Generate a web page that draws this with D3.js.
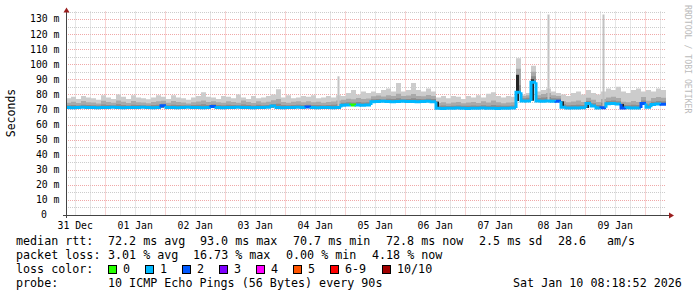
<!DOCTYPE html>
<html>
<head>
<meta charset="utf-8">
<script src="https://cdn.jsdelivr.net/npm/d3@7"></script>
<style>
body { margin: 0; background: #fff; }
text { font-family: "DejaVu Sans Mono", monospace; fill: #000; }
</style>
</head>
<body>
<svg width="697" height="297"></svg>
<script>
// 10 days of smokeping data, one value every 2 hours
var startTime = new Date(2025, 11, 31, 8, 18, 52);
var endTime = new Date(2026, 0, 10, 8, 18, 52);
var stepHours = 2;

// median rtt (ms)
var median = [
  71.3,71.2,71.3,71.4,71.3,71.3,71.2,71.3,71.3,71.4,71.3,71.2,71.3,71.3,71.3,71.4,71.3,71.2,71.3,72.4,
  71.3,71.3,71.2,71.3,71.4,71.3,71.3,71.2,71.3,71.9,71.3,71.2,71.3,71.3,71.4,71.3,71.3,71.2,71.3,71.3,
  71.4,72.3,71.3,71.2,71.3,71.3,71.4,71.3,71.6,71.3,71.2,71.3,71.3,71.2,71.3,72.8,72.9,73.0,72.9,72.8,
  73.0,75.2,75.3,75.4,75.3,75.2,75.3,75.4,75.3,75.3,75.2,75.3,75.4,75.2,70.8,70.7,70.8,70.8,70.9,70.8,
  70.7,70.8,70.8,70.9,70.8,70.8,70.7,70.8,70.8,70.9,81.5,75.7,75.6,88.0,75.6,75.5,75.6,75.5,75.4,71.4,
  71.0,70.9,71.0,71.1,74.0,72.3,71.0,71.1,73.8,73.9,73.7,71.0,71.1,70.9,71.0,74.0,71.5,73.3,73.6,73.5
];

// lost pings out of 10
var loss = [
  1,1,1,1,1,1,1,1,1,1,1,1,1,1,1,1,1,1,1,2,
  1,1,1,1,1,1,1,1,1,2,1,1,1,1,1,1,1,1,1,1,
  1,1,1,1,1,1,1,1,2,1,1,1,1,1,1,1,1,0,1,1,
  1,1,1,1,1,1,1,1,1,1,1,1,1,1,1,1,1,1,1,1,
  1,1,1,1,1,1,1,1,1,1,1,1,1,1,1,1,1,1,2,1,
  1,1,1,1,1,1,1,2,1,1,1,2,1,1,1,2,1,1,1,2
];

// smoke: sorted ping values (ms)
var ping7 = [
  72.8,73.0,72.7,73.2,72.9,72.8,72.6,73.3,72.9,72.8,73.4,73.0,72.7,73.2,72.9,72.8,72.6,73.0,73.2,73.8,
  72.8,73.2,72.9,72.8,72.6,73.0,73.1,73.4,73.0,73.5,72.9,72.8,73.1,73.0,72.8,73.3,72.9,72.7,73.1,72.8,
  73.0,73.6,73.8,72.9,72.8,73.0,73.1,72.9,73.2,72.9,73.0,72.8,72.9,73.1,73.4,74.5,74.8,74.6,74.9,74.7,
  74.8,76.8,77.0,76.7,77.2,76.9,77.5,76.8,77.0,77.4,76.9,76.8,77.1,76.9,72.4,72.6,72.3,72.5,72.7,72.4,
  72.5,72.6,72.4,72.8,72.5,73.0,72.6,72.4,72.5,72.6,86.0,77.5,77.8,92.0,77.6,77.9,78.2,77.5,77.3,73.4,
  72.8,73.0,73.2,72.9,75.6,74.2,72.9,74.5,75.6,75.9,75.4,73.0,72.8,73.1,72.9,76.0,73.4,75.2,75.6,75.4
];

var ping8 = [
  74.5,75.2,74.3,75.6,74.8,74.6,74.0,75.8,74.9,74.4,76.0,75.1,74.3,75.7,74.8,74.6,74.1,74.9,75.5,75.8,
  74.4,75.6,74.9,74.6,74.0,74.8,75.3,75.9,74.9,75.4,74.8,74.5,75.4,75.0,74.4,75.9,74.9,74.3,75.4,74.7,
  75.1,76.2,77.0,75.0,74.5,75.2,75.5,74.8,75.4,74.8,75.2,74.5,74.9,75.3,76.0,76.5,77.2,76.8,77.6,77.0,
  77.3,78.8,79.2,78.6,79.5,79.0,80.5,78.9,79.3,80.2,79.0,78.8,79.6,79.0,74.3,74.8,74.0,74.6,75.0,74.2,
  74.7,74.9,74.3,75.4,74.6,76.0,74.8,74.2,74.6,74.8,97.0,79.0,79.5,95.0,79.5,80.2,81.0,79.4,79.0,75.5,
  74.8,75.3,75.9,75.0,77.8,76.4,75.0,77.0,78.0,78.5,77.6,75.2,74.8,75.6,75.0,78.2,75.8,77.6,78.2,77.8
];

var pingMax = [
  77.5,78.5,77.0,79.0,78.0,77.5,76.5,79.5,78.0,77.0,80.0,78.5,77.0,79.5,78.0,77.5,76.8,78.0,79.5,78.5,
  77.0,79.5,78.0,77.5,76.5,78.0,79.0,81.5,78.5,78.0,77.0,79.0,78.5,77.5,80.0,78.0,77.0,79.0,77.5,78.0,
  79.0,80.0,83.5,78.0,79.5,77.5,78.0,79.0,78.5,79.5,77.5,78.0,79.0,78.0,79.5,79.0,81.0,83.0,80.0,82.0,
  81.0,82.0,81.0,83.0,84.0,82.0,87.5,82.0,83.0,87.5,83.0,82.0,84.0,82.0,78.0,79.0,77.5,79.0,78.5,77.0,
  79.0,78.0,79.5,78.0,80.5,81.5,79.0,78.0,79.0,78.5,104.0,80.0,81.0,99.0,82.0,83.0,84.0,82.0,81.0,80.0,
  79.0,81.0,82.0,80.0,83.0,81.0,80.0,82.0,84.0,83.0,85.0,82.0,81.0,83.0,84.0,82.0,83.0,82.0,84.0,83.0
];

// single high pings (thin spikes)
var peakIdx = [54, 96, 107];
var peakValue = [92, 133, 133];

// dark smoke where pings spread wide
var darkIdx = [19, 29, 41, 74, 90, 93, 99, 104, 111];
var darkLo = [71.3, 71.3, 71.3, 70.8, 75.6, 75.8, 71.4, 71.0, 71.0];
var darkHi = [72.6, 72.6, 72.8, 75.2, 93.0, 90.0, 75.4, 74.0, 73.7];

var yTicks = [0, 10, 20, 30, 40, 50, 60, 70, 80, 90, 100, 110, 120, 130];
var lossLabels = ["0", "1", "2", "3", "4", "5", "6-9", "10/10"];
var lossColors = ["#26ff00", "#00b8ff", "#0059ff", "#7e00ff", "#ff00ff", "#ff5500", "#ff0000", "#a10000"];

var svg = d3.select("svg");

var x = d3.scaleTime().domain([startTime, endTime]).range([66, 666]);
var y = d3.scaleLinear().domain([0, 135]).range([215, 11.5]);

function timeAt(i) {
  return d3.timeHour.offset(startTime, i * stepHours);
}
function lossIndex(l) {
  if (l <= 5) return l;
  if (l < 10) return 6;
  return 7;
}

// grid
var grid = svg.append("g");
d3.range(5, 136, 5).forEach(function (v) {
  grid.append("line")
    .attr("x1", 66).attr("x2", 666)
    .attr("y1", Math.round(y(v)) + 0.5).attr("y2", Math.round(y(v)) + 0.5)
    .attr("stroke", v % 10 == 0 ? "#f0a8a8" : "#cccccc")
    .attr("stroke-dasharray", "1,1");
});
d3.timeHour.every(6).range(startTime, endTime).forEach(function (t) {
  var major = t.getHours() == 0;
  grid.append("line")
    .attr("x1", Math.round(x(t)) + 0.5).attr("x2", Math.round(x(t)) + 0.5)
    .attr("y1", 11.5).attr("y2", 215)
    .attr("stroke", major ? "#f0a8a8" : "#cccccc")
    .attr("stroke-dasharray", "1,1");
});

// smoke bands
var idx = d3.range(median.length + 1);
function band(values, color) {
  var area = d3.area()
    .curve(d3.curveStepAfter)
    .x(function (i) { return x(i < median.length ? timeAt(i) : endTime); })
    .y0(function (i) { return y(median[Math.min(i, median.length - 1)]); })
    .y1(function (i) { return y(values[Math.min(i, median.length - 1)]); });
  svg.append("path").attr("d", area(idx)).attr("fill", color);
}
band(pingMax, "#cccccc");
band(ping8, "#a9a9a9");
band(ping7, "#8c8c8c");

svg.selectAll(".peak")
  .data(peakIdx)
  .enter()
  .append("rect")
  .attr("x", function (d) { return x(d3.timeHour.offset(timeAt(d), 1)) - 1; })
  .attr("width", 2)
  .attr("y", function (d, k) { return y(peakValue[k]); })
  .attr("height", function (d, k) { return y(median[d]) - y(peakValue[k]); })
  .attr("fill", "#c2c2c2");

svg.selectAll(".dark")
  .data(darkIdx)
  .enter()
  .append("rect")
  .attr("x", function (d) { return x(timeAt(d)); })
  .attr("width", 3)
  .attr("y", function (d, k) { return y(darkHi[k]); })
  .attr("height", function (d, k) { return y(darkLo[k]) - y(darkHi[k]); })
  .attr("fill", "#222");

// median line coloured by loss
median.forEach(function (m, i) {
  var x0 = x(timeAt(i)), x1 = x(i + 1 < median.length ? timeAt(i + 1) : endTime);
  var prev = i > 0 ? median[i - 1] : m;
  svg.append("path")
    .attr("d", "M" + x0 + "," + y(prev) + "V" + y(m) + "H" + x1)
    .attr("fill", "none")
    .attr("stroke", lossColors[lossIndex(loss[i])])
    .attr("stroke-width", 3);
});

// axes
svg.append("line").attr("x1", 66.5).attr("x2", 66.5).attr("y1", 12).attr("y2", 218)
  .attr("stroke", "#444");
svg.append("line").attr("x1", 63).attr("x2", 670).attr("y1", 215.5).attr("y2", 215.5)
  .attr("stroke", "#444");
svg.append("path").attr("d", "M63.5,12.5L66.5,7.5L69.5,12.5Z").attr("fill", "#9a1e1e");
svg.append("path").attr("d", "M669,212.5L674,215.5L669,218.5Z").attr("fill", "#9a1e1e");

svg.selectAll(".ylab")
  .data(yTicks)
  .enter()
  .append("text")
  .attr("x", function (d) { return d == 0 ? 47 : 59.5; })
  .attr("y", function (d) { return y(d); })
  .attr("dy", "0.35em")
  .attr("text-anchor", "end")
  .attr("font-size", "9.8px")
  .text(function (d) { return d == 0 ? "0" : d + " m"; });

var days = d3.timeDay.range(d3.timeDay.floor(startTime), endTime)
  .filter(function (d) { return d3.timeHour.offset(d, 12) < endTime; });
svg.selectAll(".xlab")
  .data(days)
  .enter()
  .append("text")
  .attr("x", function (d) { return x(d3.timeHour.offset(d, 12)); })
  .attr("y", 228.5)
  .attr("text-anchor", "middle")
  .attr("font-size", "9.8px")
  .text(d3.timeFormat("%d %b"));

svg.append("text")
  .attr("transform", "translate(15,113) rotate(-90)")
  .attr("text-anchor", "middle")
  .attr("font-size", "11.5px")
  .text("Seconds");

svg.append("text")
  .attr("transform", "translate(685,5) rotate(90)")
  .attr("font-size", "8.2px")
  .style("fill", "#bbbbbb")
  .text("RRDTOOL / TOBI OETIKER");

// legend
var legendRows = [
  [["median rtt:", 16], ["72.2 ms avg", 108], ["93.0 ms max", 200], ["70.7 ms min", 293],
   ["72.8 ms now", 386], ["2.5 ms sd", 479], ["28.6", 558], ["am/s", 607]],
  [["packet loss:", 16], ["3.01 % avg", 108], ["16.73 % max", 193], ["0.00 % min", 286],
   ["4.18 % now", 372]],
  [["loss color:", 16]],
  [["probe:", 16], ["10 ICMP Echo Pings (56 Bytes) every 90s", 108], ["Sat Jan 10 08:18:52 2026", 513]]
];
legendRows.forEach(function (row, r) {
  row.forEach(function (item) {
    svg.append("text")
      .attr("x", item[1])
      .attr("y", 245 + r * 14)
      .attr("font-size", "11.7px")
      .text(item[0]);
  });
});

var lossBoxX = [108, 145, 182, 219, 256, 293, 330, 382];
lossLabels.forEach(function (lab, k) {
  svg.append("rect")
    .attr("x", lossBoxX[k] + 0.5).attr("y", 265.5)
    .attr("width", 8).attr("height", 8)
    .attr("fill", lossColors[k])
    .attr("stroke", "#000");
  svg.append("text")
    .attr("x", lossBoxX[k] + 15)
    .attr("y", 273)
    .attr("font-size", "11.7px")
    .text(lab);
});
</script>
</body>
</html>
